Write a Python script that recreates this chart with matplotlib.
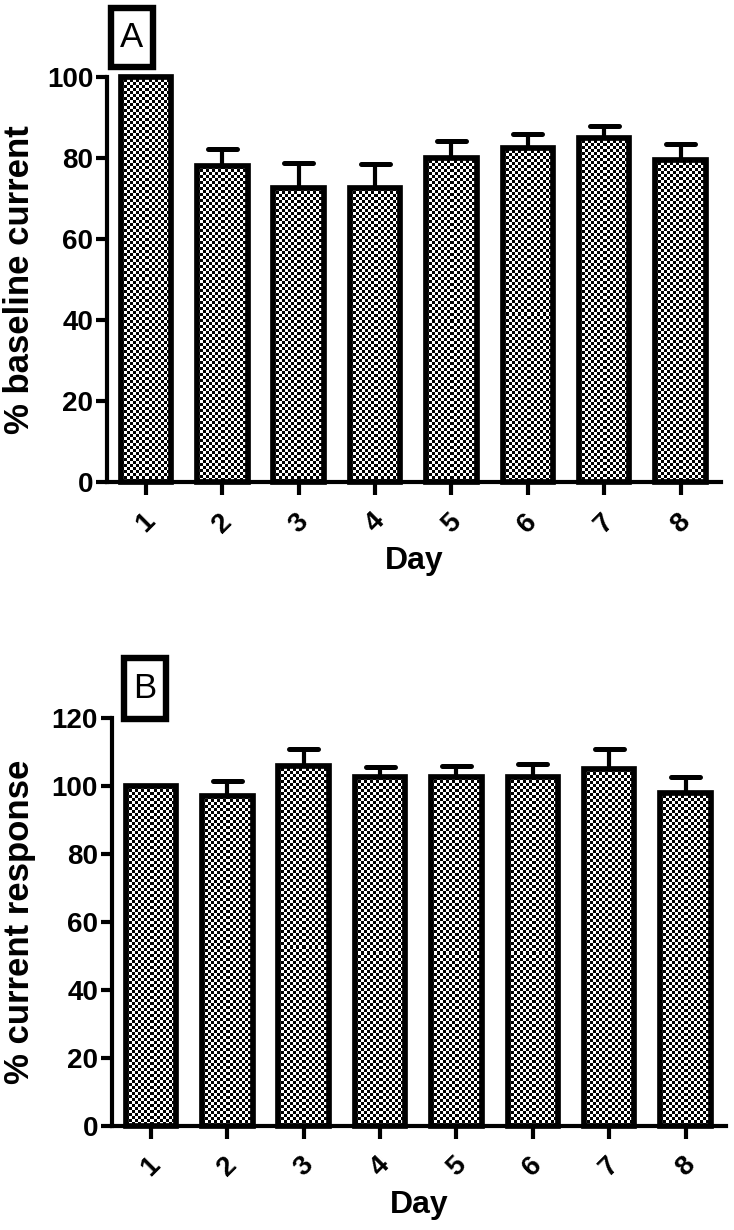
import matplotlib
matplotlib.use("Agg")
import matplotlib.pyplot as plt
import numpy as np
from matplotlib.patches import Rectangle

plt.rcParams['font.family'] = ['Liberation Sans', 'DejaVu Sans']

DAYS = [1, 2, 3, 4, 5, 6, 7, 8]

# panel A: % baseline current
BASELINE_MEAN = [100, 78, 72.5, 72.5, 80, 82.5, 85, 79.5]
BASELINE_ERR = [0, 4.3, 6.2, 6.0, 4.3, 3.4, 2.8, 4.0]

# panel B: % current response
RESPONSE_MEAN = [100, 97, 106, 102.5, 102.5, 102.5, 105, 98]
RESPONSE_ERR = [0, 4.5, 5.0, 3.0, 3.3, 4.0, 5.8, 4.5]

BAR_W = 0.66
CELL = 3  # checker cell size, px


def checker_fill(ax, x, h):
    """Put a black/white checkerboard image inside the bar rectangle."""
    (px0, py0), (px1, py1) = ax.transData.transform([(x - BAR_W / 2, 0), (x + BAR_W / 2, h)])
    nx = max(int(round(abs(px1 - px0))), 1)
    ny = max(int(round(abs(py1 - py0))), 1)
    jj, ii = np.meshgrid(np.arange(nx), np.arange(ny))
    board = ((ii // CELL + jj // CELL) % 2).astype(float)
    ax.imshow(board, extent=(x - BAR_W / 2, x + BAR_W / 2, 0, h), cmap='gray',
              vmin=0, vmax=1, interpolation='nearest', aspect='auto', zorder=1)


def draw_panel(ax, means, errs, ymax, ylabel, label_x, letter, box):
    ax.set_xlim(0.49, 8.53)
    ax.set_ylim(0, ymax)
    for d, m in zip(DAYS, means):
        checker_fill(ax, d, m)
    ax.bar(DAYS, means, width=BAR_W, facecolor='none', edgecolor='black',
           linewidth=4.1, zorder=3, clip_on=False)
    for d, m, e in zip(DAYS, means, errs):
        if e <= 0:
            continue
        ax.vlines(d, m, m + e, color='black', linewidth=3, zorder=2, clip_on=False)
        ax.hlines(m + e, d - 0.19, d + 0.19, color='black', linewidth=3.6,
                  capstyle='round', zorder=2, clip_on=False)
    ax.set_xlim(0.49, 8.53)
    ax.set_ylim(0, ymax)

    ax.spines['top'].set_visible(False)
    ax.spines['right'].set_visible(False)
    for s in ('left', 'bottom'):
        ax.spines[s].set_linewidth(3)
    ax.set_yticks(np.arange(0, ymax + 1, 20))
    ax.set_xticks(DAYS)
    ax.set_xticklabels([str(d) for d in DAYS], rotation=45, ha='center', va='top')
    ax.tick_params(axis='y', length=8, width=3, labelsize=20, pad=2)
    ax.tick_params(axis='x', length=9, width=3, labelsize=20, pad=10)
    for lab in ax.get_yticklabels() + ax.get_xticklabels():
        lab.set_fontweight('bold')
    ax.set_ylabel(ylabel, fontsize=25, fontweight='bold')
    ax.yaxis.set_label_coords(label_x, 0.5)
    ax.set_xlabel('Day', fontsize=23, fontweight='bold', labelpad=6)

    fig = ax.figure
    bx0, by0, bx1, by1 = box
    W, H = 734, 1230
    fig.patches.append(Rectangle((bx0 / W, 1 - by1 / H), (bx1 - bx0) / W, (by1 - by0) / H,
                                 transform=fig.transFigure, facecolor='white',
                                 edgecolor='black', linewidth=4.6))
    fig.text((bx0 + bx1) / 2 / W, 1 - (by0 + by1) / 2 / H, letter, fontsize=25,
             ha='center', va='center')


fig = plt.figure(figsize=(7.34, 12.30), dpi=100)
ax_a = fig.add_axes([0.1458, 0.6081, 0.8365, 0.3293])
ax_b = fig.add_axes([0.1526, 0.0846, 0.8365, 0.3317])

draw_panel(ax_a, BASELINE_MEAN, BASELINE_ERR, 100, '% baseline current', -0.115, 'A',
           (111, 8, 153, 67))
draw_panel(ax_b, RESPONSE_MEAN, RESPONSE_ERR, 120, '% current response', -0.123, 'B',
           (124, 658, 166, 719))

fig.savefig('out.png', dpi=100)
